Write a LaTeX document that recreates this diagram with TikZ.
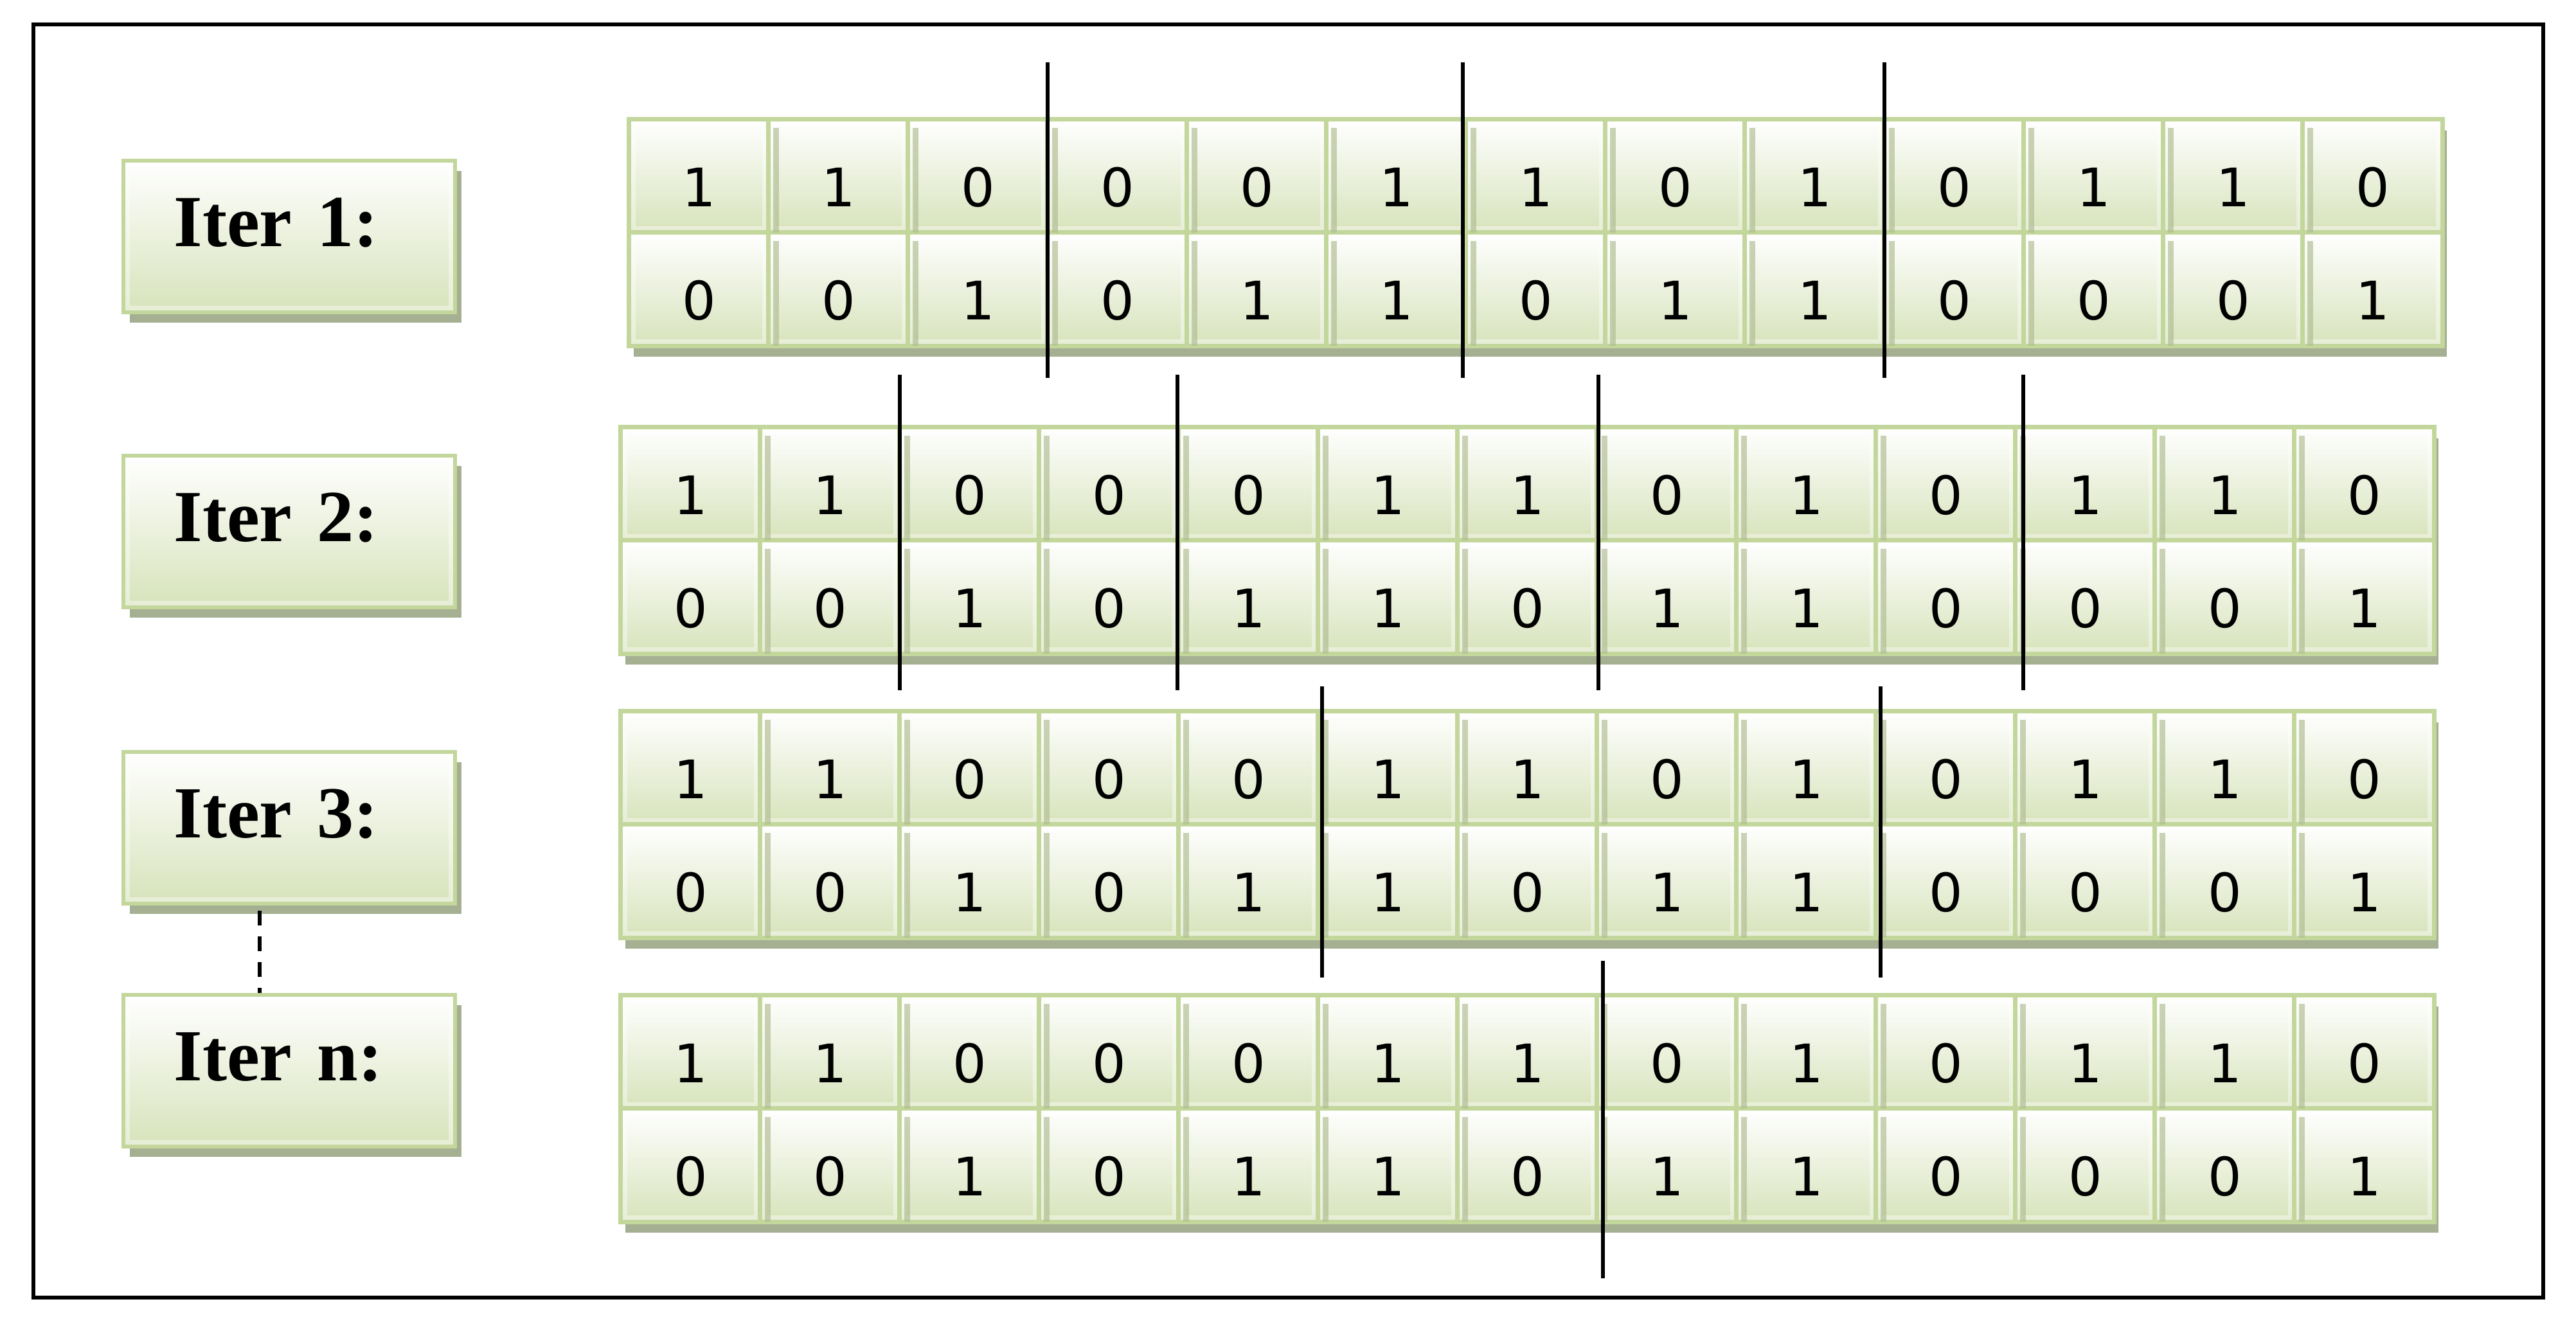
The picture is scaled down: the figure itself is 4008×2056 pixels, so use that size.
\documentclass[tikz,border=0pt]{standalone}
\usepackage{fontspec}
\setmainfont{Liberation Serif}
\newfontfamily\digitfont{DejaVu Sans}
\usetikzlibrary{shadows,calc}
\definecolor{cellborder}{HTML}{C3D69B}
\definecolor{cellbottom}{HTML}{D7E3BB}
\definecolor{shadowgreen}{HTML}{A5AF92}
\definecolor{stripgreen}{HTML}{AEBC90}
\tikzset{
  bevel/.style={path picture={\draw[white, opacity=0.4, line width=0.20cm]
      (path picture bounding box.south west) rectangle (path picture bounding box.north east);}},
  cell/.style={draw=cellborder, line width=2pt, top color=white, bottom color=cellbottom, bevel,
    minimum width=2.17cm, minimum height=1.76cm, inner sep=0pt,
    text height=26.8pt, text depth=0pt,
    font=\digitfont\fontsize{23.5}{23.5}\selectfont, text=black,
    general shadow={fill=shadowgreen, shadow xshift=0.07cm, shadow yshift=-0.17cm}},
  iterbox/.style={draw=cellborder, line width=1.8pt, top color=white, bottom color=cellbottom, bevel,
    minimum width=5.16cm, minimum height=2.36cm, inner sep=0pt,
    general shadow={fill=shadowgreen, shadow xshift=0.10cm, shadow yshift=-0.16cm}},
  itertext/.style={anchor=base west, inner sep=0pt, font=\bfseries\fontsize{32.5}{32.5}\selectfont, text=black},
  cutline/.style={black, line width=1.7pt},
  dashline/.style={black, line width=1.5pt, dash pattern=on 0.23cm off 0.17cm},
  frame/.style={black, line width=1.5pt}
}
\begin{document}
\begin{tikzpicture}[x=0.01cm, y=-0.01cm]
\useasboundingbox (0,0) rectangle (4008,2056);
\draw[frame] (52,38) rectangle (3957,2019);
% iteration labels
\foreach \k/\cy/\lab in {1/368/1, 2/827/2, 3/1288/3, 4/1666/n} {
  \node[iterbox] (i\k) at (450,\cy) {};
  \node[itertext] (t\k) at (270,{\cy+15}) {Iter\hspace{0.34em}\lab:};
}
\coordinate (dashx) at (404,0);
\draw[dashline] ($(i3.south -| dashx)+(0,8)$) -- (i4.north -| dashx);
% cell blocks
\foreach \blk/\bx/\by in {1/979/186, 2/966/665, 3/966/1107, 4/966/1549} {
  \foreach \d [count=\c] in {1,1,0,0,0,1,1,0,1,0,1,1,0} {
    \node[cell] (b\blk r1c\c) at ({\bx+(\c-0.5)*217}, {\by+88}) {\d};
  }
  \foreach \d [count=\c] in {0,0,1,0,1,1,0,1,1,0,0,0,1} {
    \node[cell] (b\blk r2c\c) at ({\bx+(\c-0.5)*217}, {\by+264}) {\d};
  }
  % shadow strips seen at the left of each following cell
  \foreach \c in {1,...,12} {
    \fill[stripgreen, opacity=0.65] ($(b\blk r1c\c.north east)+(3.5,17)$) rectangle ($(b\blk r1c\c.south east)+(12,-3.5)$);
    \fill[stripgreen, opacity=0.65] ($(b\blk r2c\c.north east)+(3.5,17)$) rectangle ($(b\blk r2c\c.south east)+(12,-3.5)$);
  }
}
% cut lines
\foreach \n/\lx/\ya/\yb in {1/1630/97/588, 2/2276/97/588, 3/2932/97/588,
    4/1400/583/1074, 5/1832/583/1074, 6/2487/583/1074, 7/3148/583/1074,
    8/2057/1068/1521, 9/2926/1068/1521,
    10/2494/1495/1989} {
  \coordinate (cutA\n) at (\lx,\ya);
  \coordinate (cutB\n) at (\lx,\yb);
  \draw[cutline] (cutA\n) -- (cutB\n);
}
\end{tikzpicture}
\end{document}
